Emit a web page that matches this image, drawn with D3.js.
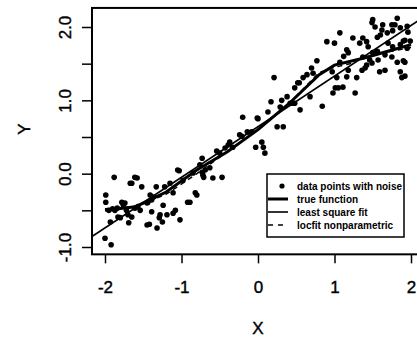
<!DOCTYPE html>
<html>
<head>
<meta charset="utf-8">
<script src="https://cdn.jsdelivr.net/npm/d3@7"></script>
<style>
  body { margin: 0; background: #fff; }
  svg { display: block; font-family: "Liberation Sans", Arial, sans-serif; }
</style>
</head>
<body>
<div id="chart"></div>
<script>
// data points with noise
const pointX = [-1.99,-1.99,-1.93,-1.88,-2.0,-1.92,-1.67,-1.65,-1.61,-1.58,-1.52,-1.78,-1.76,-1.87,-1.84,-1.7,-1.65,-1.83,-1.8,-1.69,-1.74,
  -1.61,-1.57,-1.54,-1.45,-1.44,-1.39,-1.37,-1.41,-1.45,-1.33,-1.32,-1.39,-1.28,-1.25,-1.29,-1.24,-1.22,-1.19,-1.15,-1.11,-1.08,-1.11,
  -1.02,-1.05,-0.98,-0.92,-0.89,-0.85,-0.8,-0.82,-0.73,-0.76,-0.71,-1.42,-1.03,-1.95,-1.9,-1.72,
  -0.73,-0.63,-0.69,-0.59,-0.47,-0.72,-0.54,-0.5,-0.37,-0.33,-0.39,-0.24,-0.21,-0.14,-0.1,-0.08,-0.2,0.0,-0.01,0.05,0.07,0.09,-0.03,
  0.13,0.17,0.21,0.25,0.33,0.29,0.31,0.38,0.42,0.44,0.48,0.48,0.52,0.55,0.54,0.59,0.64,0.68,0.7,0.72,0.77,0.84,-0.43,
  0.9,0.98,0.97,1.0,1.01,1.05,1.03,1.07,1.07,1.11,1.16,1.18,1.18,1.16,1.24,1.27,1.29,1.33,1.36,1.37,1.37,1.4,1.42,1.42,1.44,1.46,
  1.49,1.49,1.5,1.5,1.53,1.56,1.56,1.57,1.59,1.6,1.62,1.63,1.66,1.66,1.69,1.7,1.75,1.75,1.76,1.76,1.79,1.82,1.82,1.86,1.86,1.86,
  1.88,1.9,1.9,1.92,1.92,1.95,1.95,1.96,1.99,1.92,1.12];
const pointY = [-0.29,-0.39,-0.66,-0.05,-0.88,-0.97,-0.13,-0.13,-0.05,-0.06,-0.18,-0.39,-0.43,-0.5,-0.47,-0.56,-0.59,-0.59,-0.6,-0.67,-0.4,
  -0.47,-0.45,-0.5,-0.4,-0.39,-0.36,-0.32,-0.29,-0.7,-0.18,-0.74,-0.52,-0.56,-0.66,-0.6,-0.43,-0.18,-0.56,-0.13,-0.26,-0.5,-0.54,
  -0.63,0.05,-0.09,-0.39,-0.39,0.01,-0.29,-0.26,0.02,0.12,-0.05,-0.69,0.04,-0.5,-0.48,-0.5,
  0.21,0.08,0.05,-0.06,-0.05,-0.02,0.31,0.28,0.43,0.36,0.39,0.53,0.51,0.57,0.56,0.57,0.77,0.75,0.76,0.43,0.36,0.28,0.36,
  0.84,0.98,1.31,0.64,0.64,0.91,1.0,1.05,0.96,0.96,0.96,1.17,1.24,0.87,1.24,1.31,1.35,1.05,1.44,1.37,1.54,0.92,0.35,
  1.8,1.1,1.39,1.78,1.17,1.17,1.31,1.92,1.52,1.18,1.69,1.65,1.41,1.32,1.85,1.1,1.31,1.78,1.41,1.85,1.59,1.44,1.8,1.48,1.73,1.55,
  1.51,2.06,2.1,1.65,2.0,1.86,1.67,1.55,1.39,1.89,1.96,2.03,1.62,1.41,1.92,1.78,1.59,2.03,1.73,1.95,2.03,2.12,1.52,1.99,1.76,1.39,
  1.31,1.81,1.54,1.82,1.52,1.71,2.01,1.93,1.81,1.33,1.6];

// true function (thick line)
const trueX = [-2, -1.6, -1.2, -0.8, -0.4, 0, 0.4, 0.8, 1.0, 1.4, 1.8, 2];
const trueY = [-0.5, -0.45, -0.25, 0.05, 0.3, 0.6, 0.95, 1.35, 1.48, 1.58, 1.7, 1.76];

// locfit nonparametric (dashed)
const locX = [-2, -1.6, -1.2, -0.8, -0.4, 0, 0.4, 0.8, 1.0, 1.2, 1.4, 1.8, 2];
const locY = [-0.48, -0.45, -0.28, 0.0, 0.3, 0.6, 0.95, 1.38, 1.45, 1.5, 1.6, 1.68, 1.72];

// least square fit: intercept, slope
const lsCoef = [0.64, 0.69];

const xTicks = [-2, -1, 0, 1, 2];
const yTicks = [-1, -0.5, 0, 0.5, 1, 1.5, 2];
const yTickLabels = ["-1.0", "", "0.0", "", "1.0", "", "2.0"];
const legendLabels = ["data points with noise", "true function", "least square fit", "locfit nonparametric"];

const width = 417, height = 339;

const x = d3.scaleLinear().domain([-2, 2]).range([105, 411]);
const y = d3.scaleLinear().domain([-1, 2]).range([247, 27]);

// plot region (R style 4% extension, right side cut off by the image)
const xMin = -2.17, xMax = 2.16, yMin = -1.1, yMax = 2.26;

const svg = d3.select("#chart")
  .append("svg")
  .attr("width", width)
  .attr("height", height);

svg.append("defs").append("clipPath")
  .attr("id", "plotclip")
  .append("rect")
  .attr("x", x(xMin))
  .attr("y", y(yMax))
  .attr("width", x(xMax) - x(xMin))
  .attr("height", y(yMin) - y(yMax));

const plot = svg.append("g").attr("clip-path", "url(#plotclip)");

// points
plot.selectAll("circle.pt")
  .data(pointX.map((d, i) => [d, pointY[i]]))
  .enter()
  .append("circle")
  .attr("class", "pt")
  .attr("cx", d => x(d[0]))
  .attr("cy", d => y(d[1]))
  .attr("r", 2.8)
  .attr("fill", "#000");

const line = d3.line().x(d => x(d[0])).y(d => y(d[1]));

// least square fit
plot.append("path")
  .datum([xMin, xMax].map(v => [v, lsCoef[0] + lsCoef[1] * v]))
  .attr("d", line)
  .attr("fill", "none")
  .attr("stroke", "#000")
  .attr("stroke-width", 1.6);

// locfit
plot.append("path")
  .datum(locX.map((d, i) => [d, locY[i]]))
  .attr("d", line)
  .attr("fill", "none")
  .attr("stroke", "#000")
  .attr("stroke-width", 1.5)
  .attr("stroke-dasharray", "5,4");

// true function
plot.append("path")
  .datum(trueX.map((d, i) => [d, trueY[i]]))
  .attr("d", line)
  .attr("fill", "none")
  .attr("stroke", "#000")
  .attr("stroke-width", 3);

// box
svg.append("rect")
  .attr("x", x(xMin))
  .attr("y", y(yMax))
  .attr("width", x(xMax) - x(xMin))
  .attr("height", y(yMin) - y(yMax))
  .attr("fill", "none")
  .attr("stroke", "#000")
  .attr("stroke-width", 2);

// x axis
const xAxis = d3.axisBottom(x)
  .tickValues(xTicks)
  .tickSize(9)
  .tickPadding(18)
  .tickFormat(d => String(d));

const gx = svg.append("g")
  .attr("transform", "translate(0," + y(yMin) + ")")
  .call(xAxis);
gx.select(".domain").remove();
gx.selectAll("line").attr("stroke", "#000").attr("stroke-width", 1.5);
gx.selectAll("text")
  .attr("font-size", 17)
  .attr("fill", "#000")
  .attr("stroke", "#000")
  .attr("stroke-width", 0.4)
  .attr("font-family", "Liberation Sans, Arial, sans-serif");

// y axis
const yAxis = d3.axisLeft(y)
  .tickValues(yTicks)
  .tickSize(10)
  .tickFormat((d, i) => yTickLabels[i]);

const gy = svg.append("g")
  .attr("transform", "translate(" + x(xMin) + ",0)")
  .call(yAxis);
gy.select(".domain").remove();
gy.selectAll("line").attr("stroke", "#000").attr("stroke-width", 1.5);
gy.selectAll("text")
  .attr("font-size", 17)
  .attr("fill", "#000")
  .attr("stroke", "#000")
  .attr("stroke-width", 0.4)
  .attr("font-family", "Liberation Sans, Arial, sans-serif")
  .attr("x", null)
  .attr("dy", null)
  .attr("text-anchor", "middle")
  .attr("transform", "translate(-21,0) rotate(-90)");

// axis titles
svg.append("text")
  .attr("x", x(0))
  .attr("y", 334)
  .attr("text-anchor", "middle")
  .attr("font-size", 17)
  .attr("stroke", "#000")
  .attr("stroke-width", 0.4)
  .text("X");

svg.append("text")
  .attr("transform", "translate(30,129) rotate(-90)")
  .attr("text-anchor", "middle")
  .attr("font-size", 17)
  .attr("stroke", "#000")
  .attr("stroke-width", 0.4)
  .text("Y");

// legend
const legend = svg.append("g");
legend.append("rect")
  .attr("x", 267).attr("y", 174)
  .attr("width", 137).attr("height", 63)
  .attr("fill", "#fff")
  .attr("stroke", "#000")
  .attr("stroke-width", 1.5);

const rowY = i => 186 + i * 13;

legend.append("circle")
  .attr("cx", 282).attr("cy", rowY(0)).attr("r", 2.6).attr("fill", "#000");

const legendLines = [
  { w: 3, dash: null },
  { w: 1.6, dash: null },
  { w: 1.5, dash: "5,5" }
];
legendLines.forEach((s, i) => {
  legend.append("line")
    .attr("x1", 268).attr("x2", 288)
    .attr("y1", rowY(i + 1)).attr("y2", rowY(i + 1))
    .attr("stroke", "#000")
    .attr("stroke-width", s.w)
    .attr("stroke-dasharray", s.dash);
});

legend.selectAll("text.lg")
  .data(legendLabels)
  .enter()
  .append("text")
  .attr("class", "lg")
  .attr("x", 297)
  .attr("y", (d, i) => rowY(i))
  .attr("dy", "0.35em")
  .attr("font-size", 10)
  .attr("font-weight", "bold")
  .text(d => d);
</script>
</body>
</html>
